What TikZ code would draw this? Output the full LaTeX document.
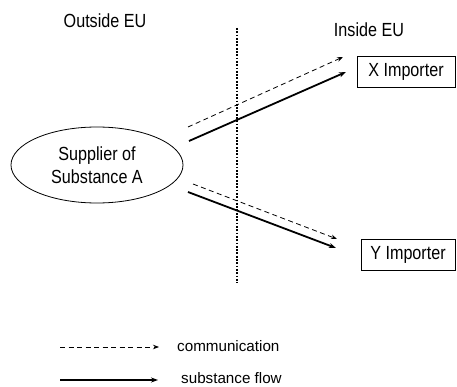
\documentclass[tikz,border=0pt]{standalone}
\usepackage{fontspec}
\setmainfont{Liberation Sans}
\newfontfamily\narrowfont[FakeStretch=0.85]{Liberation Sans}
\usetikzlibrary{arrows.meta,shapes.geometric}
\tikzset{
  lbl/.style={font=\narrowfont\fontsize{19}{22}\selectfont, inner sep=0pt},
  legtxt/.style={font=\fontsize{15.2}{17}\selectfont, inner sep=0pt, anchor=west},
  impbox/.style={draw, line width=0.8pt, font=\narrowfont\fontsize{19}{22}\selectfont, inner sep=0pt},
  comm/.style={dashed, dash pattern=on 5pt off 3.5pt, line width=0.8pt, -{Stealth[length=6pt,width=4.5pt]}},
  flow/.style={line width=1.8pt, -{Stealth[length=7pt,width=5pt]}},
  border/.style={line width=2.8pt, dash pattern=on 1.8pt off 1.5pt},
}
\begin{document}
\begin{tikzpicture}[x=1pt,y=-1pt]
\useasboundingbox (0,0) rectangle (457,387);
\node[lbl] (outside) at (105,21) {Outside EU};
\node[lbl] (inside) at (369,30) {Inside EU};
\coordinate (btop) at (237,28);
\coordinate (bbot) at (237,283);
\draw[border] (btop) -- (bbot);
\node[draw, ellipse, line width=0.8pt, minimum width=172, minimum height=76, align=center, lbl] (sup) at (97,165) {Supplier of\\[1pt]Substance A};
\node[impbox, minimum width=98, minimum height=31] (x) at (406,71.5) {X Importer};
\node[impbox, minimum width=94, minimum height=31] (y) at (408,254.5) {Y Importer};
\coordinate (c1s) at (188,127);
\coordinate (c1e) at (343,57);
\coordinate (f1s) at (189,141);
\coordinate (f1e) at (346,72);
\coordinate (c2s) at (193,184);
\coordinate (c2e) at (337,239);
\coordinate (f2s) at (188,192);
\coordinate (f2e) at (336,248);
\draw[comm] (c1s) -- (c1e);
\draw[flow] (f1s) -- (f1e);
\draw[comm] (c2s) -- (c2e);
\draw[flow] (f2s) -- (f2e);
\coordinate (l1s) at (60,347);
\coordinate (l1e) at (159,347);
\coordinate (l2s) at (60,380);
\coordinate (l2e) at (158,380);
\draw[comm] (l1s) -- (l1e);
\draw[flow, line width=1.6pt] (l2s) -- (l2e);
\node[legtxt] (lc) at (177,346) {communication};
\node[legtxt] (lf) at (181,378) {substance flow};
\end{tikzpicture}
\end{document}
